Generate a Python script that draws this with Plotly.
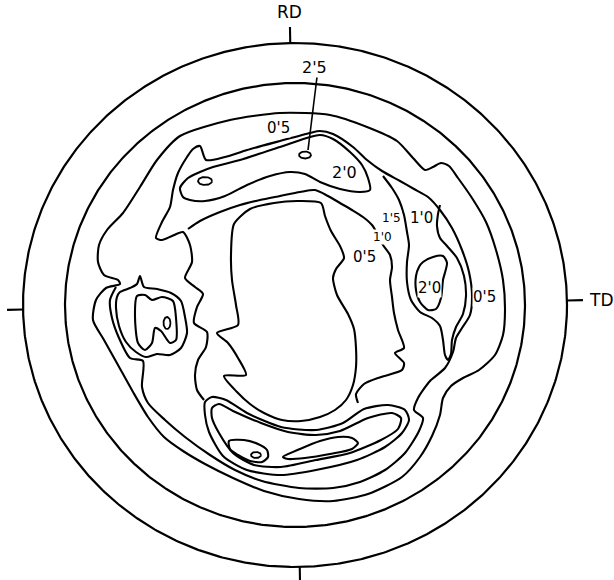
import numpy as np
import plotly.graph_objects as go

# ---------------------------------------------------------------
# Pole figure frame (drawing units, origin at the pole centre)
# ---------------------------------------------------------------
RING_RX = [272, 230]          # projection circle, measurement limit
RING_RY = [262, 222]
FRAME_ROT = 1.0               # degrees, anticlockwise
AXIS_ANGLES = [0, 90, 180, 270]
AXIS_NAMES = ["TD", "RD", "", ""]

# ---------------------------------------------------------------
# Iso-intensity lines (x, y)
# ---------------------------------------------------------------
outer_05 = [(-115, 169), (-65, 185), (-15, 192), (35, 190), (72, 178), (102, 164), (118, 147),
            (130, 135), (138, 138), (146, 142), (154, 139), (163, 127), (177, 107), (191, 83),
            (201, 55), (208, 25), (210, -5), (208, -30), (200, -50), (184, -65), (168, -73),
            (156, -81), (148, -93), (145, -110), (137, -131), (125, -152), (107, -172), (73, -189),
            (38, -196), (4, -194), (-31, -186), (-62, -173), (-90, -159), (-112, -146), (-131, -132),
            (-147, -112), (-162, -87), (-177, -60), (-191, -35), (-202, -15), (-199, 5), (-189, 17),
            (-175, 21), (-177, 25), (-191, 30), (-197, 43), (-196, 60), (-188, 75), (-172, 92),
            (-155, 118), (-138, 145)]

ridge_10 = [(-179, 18), (-185, 5), (-183, -13), (-176, -33), (-165, -53), (-152, -56), (-153, -82),
            (-147, -98), (-130, -115), (-110, -132), (-85, -150), (-60, -165), (-33, -176), (4, -183),
            (38, -183), (65, -177), (90, -165), (110, -148), (124, -126), (128, -113), (119, -105),
            (123, -93), (135, -76), (150, -63), (158, -47), (161, -33), (167, -23), (175, -10),
            (177, 10), (174, 33), (167, 55), (157, 77), (145, 95), (133, 108), (119, 116), (105, 124),
            (87, 134), (72, 145), (58, 158), (38, 171), (25, 174), (15, 172), (-15, 164), (-48, 155),
            (-70, 148), (-89, 145), (-95, 159), (-102, 156), (-108, 148), (-117, 132), (-122, 115),
            (-125, 98), (-133, 83), (-139, 67), (-133, 65), (-123, 69), (-112, 73), (-105, 60),
            (-103, 43), (-110, 27), (-100, 18), (-92, 11), (-98, -2), (-101, -18), (-88, -27),
            (-89, -42), (-97, -55), (-100, -70), (-98, -85), (-91, -95)]

inner_10 = [(-107, 76), (-95, 84), (-75, 93), (-55, 100), (-35, 105), (-15, 109), (5, 113), (20, 115),
            (33, 109), (45, 102), (57, 95), (68, 88), (77, 80), (83, 70), (88, 60), (95, 50), (97, 38),
            (95, 25), (97, 8), (99, -8), (103, -25), (109, -43), (100, -48), (109, -58), (107, -65),
            (86, -72), (69, -79), (61, -89), (63, -98)]

top_20 = [(-112, 108), (-115, 117), (-107, 127), (-95, 133), (-82, 138), (-55, 145), (-15, 158),
          (15, 168), (25, 170), (38, 166), (55, 153), (67, 140), (73, 127), (75, 115), (65, 113),
          (45, 116), (25, 123), (10, 131), (-5, 133), (-25, 129), (-48, 120), (-70, 109), (-90, 104),
          (-105, 105)]

td_tongue_15 = [(88, 129), (97, 117), (104, 105), (109, 90), (112, 73), (114, 60), (112, 43), (112, 23),
                (116, 5), (125, -7), (137, -13), (145, -21), (148, -35), (150, -50), (153, -55),
                (156, -49), (157, -35), (161, -22), (168, -9), (171, 9), (169, 29), (162, 47),
                (152, 59), (145, 67), (142, 79), (143, 91), (145, 100)]

td_peak_20 = [(128, 43), (138, 48), (148, 49), (152, 42), (148, 25), (146, 7), (141, -4), (133, -5),
              (125, 3), (121, 15), (121, 29), (124, 38)]

centre_05 = [(-61, 81), (-45, 96), (-21, 102), (2, 104), (26, 102), (30, 89), (36, 74), (45, 59),
             (49, 47), (41, 36), (38, 27), (42, 10), (53, -9), (59, -24), (61, -43), (61, -62),
             (58, -80), (51, -95), (40, -105), (25, -112), (6, -116), (-13, -115), (-31, -108),
             (-45, -99), (-58, -87), (-71, -71), (-49, -70), (-57, -53), (-67, -38), (-78, -28),
             (-57, -20), (-59, 0), (-63, 25), (-64, 50)]

left_15 = [(-175, 13), (-165, 17), (-158, 21), (-155, 29), (-151, 18), (-138, 16), (-124, 12),
           (-114, 4), (-110, -12), (-108, -28), (-114, -43), (-125, -50), (-138, -49), (-149, -52),
           (-159, -47), (-169, -37), (-176, -21), (-179, -3), (-178, 8)]

left_20 = [(-158, 9), (-160, -12), (-157, -38), (-150, -45), (-143, -38), (-140, -23), (-134, -26),
           (-125, -38), (-119, -35), (-119, -13), (-122, 4), (-133, 8), (-143, 5), (-150, 10)]

rd_band_15 = [(-90, -97), (-83, -92), (-69, -95), (-48, -108), (-14, -122), (21, -125), (48, -118),
              (69, -104), (93, -100), (110, -105), (114, -115), (107, -128), (90, -142), (62, -155),
              (21, -165), (-14, -170), (-48, -165), (-72, -151), (-86, -127), (-90, -110)]

rd_band_20 = [(-83, -103), (-76, -99), (-62, -106), (-34, -118), (-7, -127), (21, -130), (45, -126),
              (73, -113), (97, -108), (106, -113), (103, -124), (86, -135), (55, -148), (21, -155),
              (-14, -162), (-41, -160), (-62, -148), (-76, -128), (-83, -113)]

rd_band_left = [(-66, -136), (-51, -135), (-37, -139), (-28, -145), (-27, -152), (-33, -157),
                (-45, -156), (-57, -150), (-65, -144)]

rd_band_right = [(-12, -152), (5, -144), (25, -136), (43, -132), (57, -133), (63, -138), (57, -144),
                 (35, -149), (10, -153), (-7, -154)]

# (line, closed?)
CONTOURS = [
    (outer_05, True), (ridge_10, False), (inner_10, False), (top_20, True),
    (td_tongue_15, False), (td_peak_20, True), (centre_05, True), (left_15, True),
    (left_20, True), (rd_band_15, True), (rd_band_20, True), (rd_band_left, True),
    (rd_band_right, True),
]

# Small 2.5 maxima: centre x, centre y, half-width, half-height
PEAKS = [(-90, 124, 7, 4), (10, 150, 6, 3.5), (-128, -18, 3.5, 6), (-39, -150, 5, 3)]

# Leader from the "2'5" label down to its maximum
LEADER = [(22, 228), (13, 155)]

# Contour level labels
LABEL_TEXT = ["2'5", "0'5", "2'0", "1'5", "1'0", "1'0", "0'5", "2'0", "0'5"]
LABEL_X = [19, -17, 49, 96, 126, 87, 69, 134, 189]
LABEL_Y = [238, 177, 133, 87, 87, 68, 48, 17, 8]
LABEL_SIZE = [16, 15, 16, 12, 15, 12, 15, 15, 15]

INK = "black"
LW = 2.1
TICK = 16

fig = go.Figure()

# frame circles
t = np.linspace(0, 2 * np.pi, 721)
for rx, ry in zip(RING_RX, RING_RY):
    fig.add_trace(go.Scatter(x=rx * np.cos(t), y=ry * np.sin(t), mode="lines",
                             line=dict(color=INK, width=2.2), hoverinfo="skip"))

# reference direction ticks and names
for ang, name in zip(AXIS_ANGLES, AXIS_NAMES):
    a = np.radians(ang + FRAME_ROT)
    x0, y0 = RING_RX[0] * np.cos(a), RING_RY[0] * np.sin(a)
    x1, y1 = (RING_RX[0] + TICK) * np.cos(a), (RING_RY[0] + TICK) * np.sin(a)
    fig.add_trace(go.Scatter(x=[x0, x1], y=[y0, y1], mode="lines",
                             line=dict(color=INK, width=2.1), hoverinfo="skip"))
    if name:
        ux, uy = np.cos(a), np.sin(a)
        fig.add_annotation(x=x1 + 4 * ux, y=y1 + 3 * uy, text=name, showarrow=False,
                           xanchor="left" if ux > 0.5 else "center",
                           yanchor="bottom" if uy > 0.5 else "middle",
                           font=dict(family="DejaVu Sans", size=17, color=INK))

# contour lines
for pts, closed in CONTOURS:
    xs = [p[0] for p in pts]
    ys = [p[1] for p in pts]
    if closed:
        xs.append(xs[0])
        ys.append(ys[0])
    fig.add_trace(go.Scatter(x=xs, y=ys, mode="lines",
                             line=dict(color=INK, width=LW, shape="spline", smoothing=0.7),
                             hoverinfo="skip"))

# small maxima
s = np.linspace(0, 2 * np.pi, 60)
for cx, cy, rx, ry in PEAKS:
    fig.add_trace(go.Scatter(x=cx + rx * np.cos(s), y=cy + ry * np.sin(s), mode="lines",
                             line=dict(color=INK, width=1.8), hoverinfo="skip"))

fig.add_trace(go.Scatter(x=[p[0] for p in LEADER], y=[p[1] for p in LEADER], mode="lines",
                         line=dict(color=INK, width=1.6), hoverinfo="skip"))

for txt, x, y, sz in zip(LABEL_TEXT, LABEL_X, LABEL_Y, LABEL_SIZE):
    fig.add_annotation(x=x, y=y, text=txt, showarrow=False, xanchor="center", yanchor="middle",
                       bgcolor="white", borderpad=0,
                       font=dict(family="DejaVu Sans", size=sz, color=INK))

fig.update_layout(
    width=614, height=580, autosize=False,
    margin=dict(l=0, r=0, t=0, b=0),
    paper_bgcolor="white", plot_bgcolor="white",
    showlegend=False, hovermode=False,
    xaxis=dict(range=[-295, 319], visible=False, fixedrange=True),
    yaxis=dict(range=[-275, 305], visible=False, fixedrange=True),
)

fig.write_html("out.html")
